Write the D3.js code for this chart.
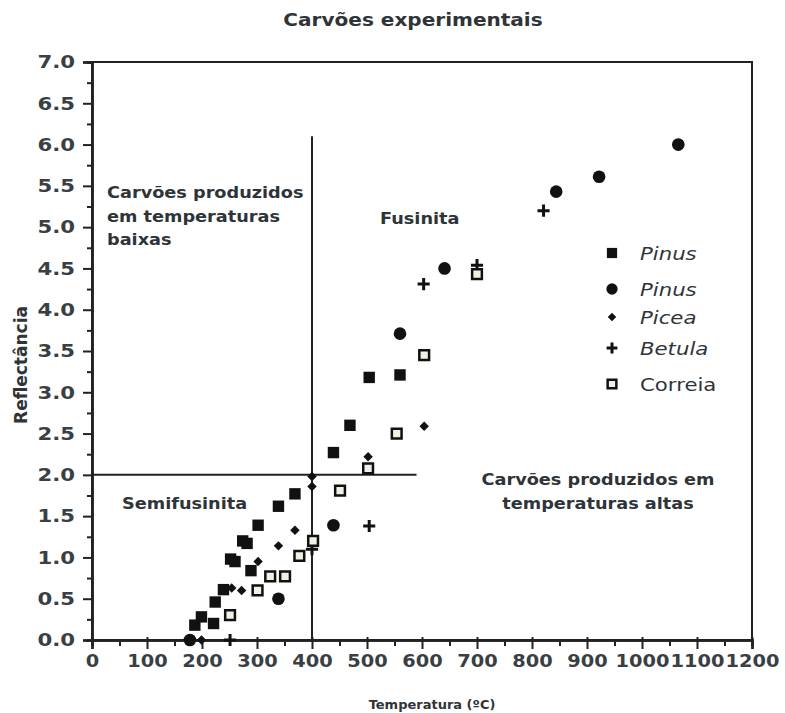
<!DOCTYPE html>
<html>
<head>
<meta charset="utf-8">
<script src="https://cdn.jsdelivr.net/npm/d3@7"></script>
<style>
  body { margin: 0; background: #fff; }
  svg { display: block; }
</style>
</head>
<body>
<div id="chart"></div>
<script>
// data: [temperatura (ºC), reflectância]
const pinusSquares = [
  [187, 0.18], [199, 0.28], [221, 0.20], [224, 0.46], [239, 0.61],
  [252, 0.98], [260, 0.95], [274, 1.20], [282, 1.17], [289, 0.84],
  [302, 1.39], [339, 1.62], [369, 1.77], [439, 2.27], [469, 2.60],
  [504, 3.18], [560, 3.21]
];
const pinusCircles = [
  [178, 0.0], [339, 0.50], [439, 1.39], [560, 3.71], [641, 4.50],
  [844, 5.43], [922, 5.61], [1066, 6.00]
];
const piceaPoints = [
  [199, 0.0], [254, 0.63], [272, 0.60], [302, 0.95], [339, 1.14],
  [369, 1.33], [400, 1.86], [400, 1.98], [502, 2.22], [604, 2.59]
];
const betulaPoints = [
  [251, 0.0], [400, 1.10], [504, 1.38], [603, 4.31], [700, 4.54], [821, 5.20]
];
const correiaPoints = [
  [251, 0.30], [301, 0.60], [324, 0.77], [351, 0.77], [377, 1.02],
  [402, 1.20], [451, 1.81], [502, 2.08], [554, 2.50], [604, 3.45], [700, 4.43]
];
const legendNames = ['Pinus', 'Pinus', 'Picea', 'Betula', 'Correia'];
const legendItalic = [true, true, true, true, false];
const xTicks = d3.range(0, 1201, 100);
const yTicks = d3.range(0, 7.01, 0.5);

const W = 785, H = 713;
const SX = 1.18; // the scan is stretched sideways, so text is too
const ink = '#111';
const textCol = '#2e3438';
const font = 'DejaVu Sans, Verdana, sans-serif';

const svg = d3.select('#chart').append('svg')
  .attr('width', W).attr('height', H);

const x = d3.scaleLinear().domain([0, 1200]).range([92, 752]);
const y = d3.scaleLinear().domain([0, 7]).range([640, 62]);

// helper for stretched text
function label(px, py, str, size, weight, anchor, style, sx) {
  return svg.append('text')
    .attr('transform', `translate(${px},${py}) scale(${sx || SX},1)`)
    .attr('text-anchor', anchor || 'start')
    .style('font-family', font)
    .style('font-size', size + 'px')
    .style('font-weight', weight || 'normal')
    .style('font-style', style || 'normal')
    .style('fill', textCol)
    .text(str);
}

// frame
svg.append('rect')
  .attr('x', x(0)).attr('y', y(7))
  .attr('width', x(1200) - x(0)).attr('height', y(0) - y(7))
  .attr('fill', 'none').attr('stroke', '#222').attr('stroke-width', 2);

// y axis
const yAxis = svg.append('g')
  .attr('transform', `translate(${x(0)},0)`)
  .call(d3.axisLeft(y).tickValues(yTicks).tickFormat(d3.format('.1f')).tickSize(9));
svg.append('g')
  .attr('transform', `translate(${x(0)},0)`)
  .call(d3.axisLeft(y).tickValues(d3.range(0.25, 7, 0.5)).tickFormat('').tickSize(5));

// x axis
const xAxis = svg.append('g')
  .attr('transform', `translate(0,${y(0)})`)
  .call(d3.axisBottom(x).tickValues(xTicks).tickFormat(d3.format('d')).tickSize(9).tickPadding(6));
svg.append('g')
  .attr('transform', `translate(0,${y(0)})`)
  .call(d3.axisBottom(x).tickValues(d3.range(50, 1200, 100)).tickFormat('').tickSize(6));
xAxis.selectAll('.tick line').attr('y1', -3);

svg.selectAll('.domain').attr('stroke', '#222').attr('stroke-width', 2.5);
svg.selectAll('.tick line').attr('stroke', '#222').attr('stroke-width', 2);

yAxis.selectAll('text')
  .attr('x', -17 / SX)
  .attr('transform', `scale(${SX},1)`)
  .style('font-family', font)
  .style('font-size', '18px').style('font-weight', 'bold')
  .style('fill', '#3a3f44');
xAxis.selectAll('text')
  .attr('transform', 'scale(1.14,1)')
  .style('font-family', font)
  .style('font-size', '17px').style('font-weight', 'bold')
  .style('fill', '#3a3f44');

// dividing lines
svg.append('line')
  .attr('x1', x(400)).attr('x2', x(400))
  .attr('y1', y(0)).attr('y2', y(6.1))
  .attr('stroke', '#222').attr('stroke-width', 2);
svg.append('line')
  .attr('x1', x(0)).attr('x2', x(590))
  .attr('y1', y(2)).attr('y2', y(2))
  .attr('stroke', '#222').attr('stroke-width', 2);

// markers
const markers = [
  { data: pinusSquares, type: d3.symbolSquare, size: 130, fill: ink, stroke: 'none', sw: 0, rot: 0 },
  { data: pinusCircles, type: d3.symbolCircle, size: 125, fill: ink, stroke: 'none', sw: 0, rot: 0 },
  { data: piceaPoints, type: d3.symbolSquare, size: 45, fill: ink, stroke: 'none', sw: 0, rot: 45 },
  { data: betulaPoints, type: d3.symbolPlus, size: 50, fill: 'none', stroke: ink, sw: 3, rot: 0 },
  { data: correiaPoints, type: d3.symbolSquare, size: 95, fill: '#f3efe6', stroke: ink, sw: 2.5, rot: 0 }
];

markers.forEach(m => {
  svg.append('g').selectAll('path')
    .data(m.data)
    .join('path')
    .attr('transform', d => `translate(${x(d[0])},${y(d[1])}) rotate(${m.rot})`)
    .attr('d', d3.symbol().type(m.type).size(m.size))
    .attr('fill', m.fill)
    .attr('stroke', m.stroke)
    .attr('stroke-width', m.sw);
});

// legend
const legendY = [253, 289, 317, 348, 384];
markers.forEach((m, i) => {
  svg.append('path')
    .attr('transform', `translate(612,${legendY[i]}) rotate(${m.rot})`)
    .attr('d', d3.symbol().type(m.type).size(m.size * 0.8))
    .attr('fill', m.fill)
    .attr('stroke', m.stroke)
    .attr('stroke-width', m.sw);
  label(640, legendY[i] + 7, legendNames[i], 18, 'normal', 'start',
    legendItalic[i] ? 'italic' : 'normal');
});

// annotations
label(107, 198, 'Carvões produzidos', 15, 'bold');
label(107, 222, 'em  temperaturas', 15, 'bold');
label(107, 245, 'baixas', 15, 'bold');
label(380, 224, 'Fusinita', 15, 'bold');
label(122, 509, 'Semifusinita', 15, 'bold');
label(598, 485, 'Carvões produzidos em', 15, 'bold', 'middle');
label(598, 509, 'temperaturas altas', 15, 'bold', 'middle');

// titles
label(413, 26, 'Carvões experimentais', 17, 'bold', 'middle');
label(432, 709, 'Temperatura (ºC)', 13, 'bold', 'middle', null, 1);
svg.append('text')
  .attr('transform', 'translate(27,365) rotate(-90)')
  .attr('text-anchor', 'middle')
  .style('font-family', font)
  .style('font-size', '17px').style('font-weight', 'bold')
  .style('fill', textCol)
  .text('Reflectância');
</script>
</body>
</html>
